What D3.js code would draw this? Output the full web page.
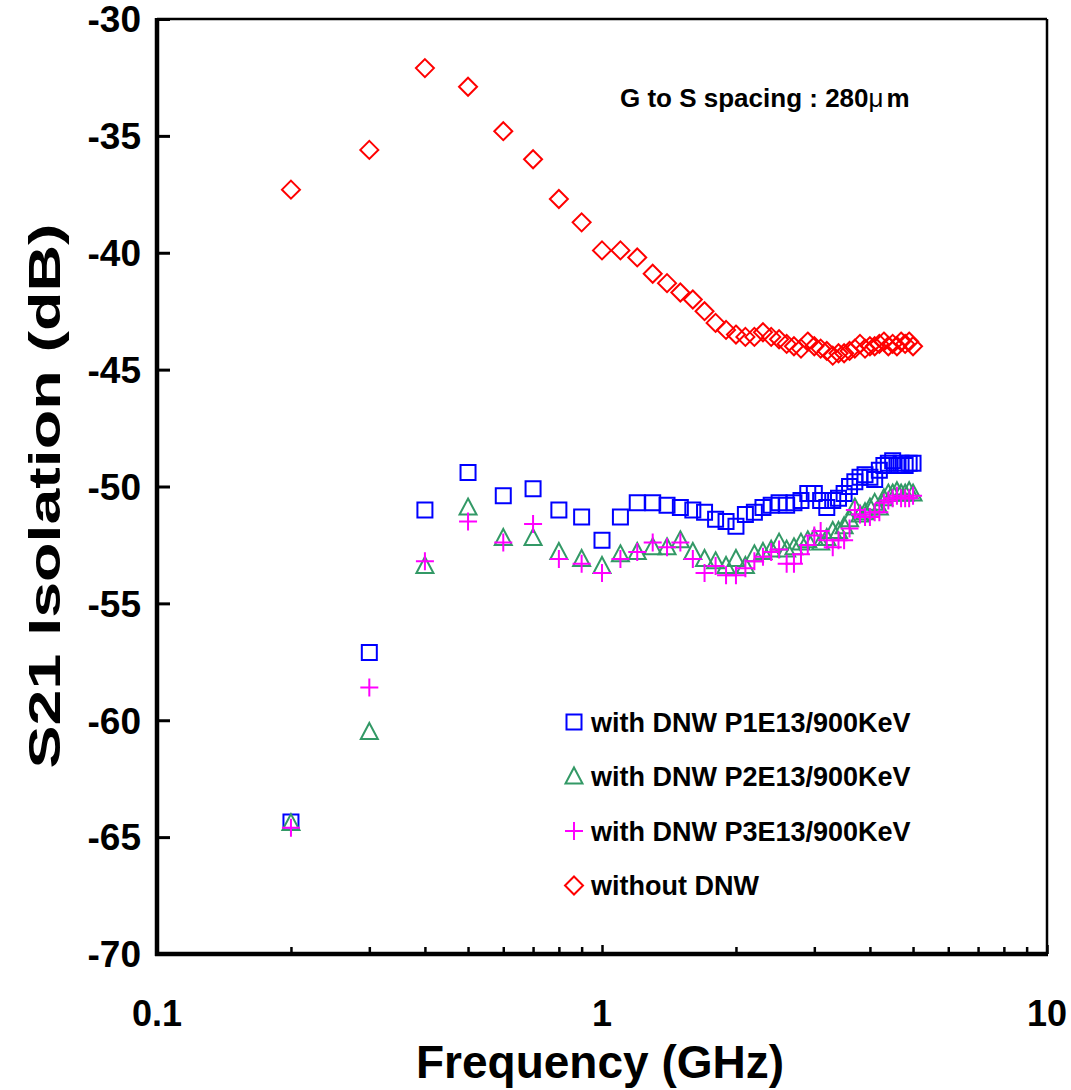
<!DOCTYPE html>
<html>
<head>
<meta charset="utf-8">
<script src="https://cdn.jsdelivr.net/npm/d3@7"></script>
<style>
  body { margin: 0; background: #fff; }
  svg { font-family: "Liberation Sans", Arial, sans-serif; font-weight: bold; }
</style>
</head>
<body>
<div id="chart"></div>
<script>
// Frequency points (GHz)
const freq = [0.2, 0.3, 0.4, 0.5, 0.6, 0.7, 0.8, 0.9, 1.0, 1.1, 1.2, 1.3, 1.4, 1.5, 1.6, 1.7, 1.8, 1.9,
    2.0, 2.1, 2.2, 2.3, 2.4, 2.5, 2.6, 2.7, 2.8, 2.9, 3.0, 3.1, 3.2, 3.3, 3.4, 3.5, 3.6, 3.7, 3.8, 3.9,
    4.0, 4.1, 4.2, 4.3, 4.4, 4.5, 4.6, 4.7, 4.8, 4.9, 5.0];

// S21 isolation (dB)
const p1 = [-64.35, -57.1, -51.0, -49.4, -50.4, -50.1, -51.0, -51.3, -52.3, -51.3, -50.7, -50.7, -50.8, -50.9, -51.0, -51.1, -51.4, -51.5,
    -51.7, -51.2, -51.1, -50.9, -50.8, -50.7, -50.8, -50.7, -50.6, -50.3, -50.3, -50.6, -50.9, -50.6, -50.5, -50.3, -50.0, -49.8, -49.6, -49.5,
    -49.6, -49.7, -49.3, -49.1, -49.0, -48.9, -49.1, -49.0, -49.1, -49.0, -49.0];
const p2 = [-64.4, -60.5, -53.4, -50.9, -52.2, -52.2, -52.8, -53.1, -53.4, -52.9, -52.8, -52.6, -52.6, -52.3, -52.8, -53.1, -53.2, -53.4,
    -53.1, -53.4, -52.9, -52.8, -52.7, -52.4, -52.7, -52.6, -52.4, -52.3, -52.2, -52.4, -52.2, -51.9, -51.9, -51.7, -51.4, -50.9, -51.2, -51.1,
    -50.9, -50.7, -50.9, -50.5, -50.3, -50.3, -50.2, -50.3, -50.3, -50.2, -50.3];
const p3 = [-64.6, -58.6, -53.2, -51.5, -52.4, -51.6, -53.1, -53.3, -53.7, -53.1, -52.8, -52.4, -52.6, -52.4, -53.1, -53.7, -53.4, -53.8,
    -53.8, -53.5, -53.2, -53.0, -52.8, -52.7, -53.3, -53.3, -52.9, -52.5, -52.1, -51.9, -52.3, -52.6, -52.3, -52.3, -51.8, -51.0, -51.2, -51.3,
    -51.3, -51.1, -51.1, -50.7, -50.6, -50.5, -50.4, -50.5, -50.5, -50.5, -50.4];
const noDnw = [-37.3, -35.6, -32.1, -32.9, -34.8, -36.0, -37.7, -38.7, -39.9, -39.9, -40.2, -40.9, -41.3, -41.7, -42.0, -42.5, -43.0, -43.3,
    -43.5, -43.6, -43.6, -43.4, -43.6, -43.7, -43.9, -44.0, -44.1, -43.8, -44.0, -44.1, -44.2, -44.4, -44.3, -44.3, -44.2, -44.1, -43.9, -44.1,
    -44.0, -44.0, -43.9, -43.8, -44.0, -43.9, -44.0, -43.8, -43.9, -43.8, -44.0];

const seriesNames = ["with DNW P1E13/900KeV", "with DNW P2E13/900KeV", "with DNW P3E13/900KeV", "without DNW"];
const yTicks = [-30, -35, -40, -45, -50, -55, -60, -65, -70];
const xTickLabels = [0.1, 1, 10];

const width = 1071, height = 1090;
const plotLeft = 157, plotRight = 1047, plotTop = 19, plotBottom = 954;

const svg = d3.select("#chart").append("svg")
    .attr("width", width)
    .attr("height", height);

const x = d3.scaleLog().domain([0.1, 10]).range([plotLeft, plotRight]);
const y = d3.scaleLinear().domain([-70, -30]).range([plotBottom, plotTop]);

// marker shapes
const markers = {
    square: "M-7.5,-7.5H7.5V7.5H-7.5Z",
    triangle: "M0,-9L8.5,7H-8.5Z",
    plus: "M-9,0H9M0,-9V9",
    diamond: "M0,-9L9,0L0,9L-9,0Z"
};
const series = [
    { name: seriesNames[0], values: p1, shape: "square", color: "#0000ff" },
    { name: seriesNames[1], values: p2, shape: "triangle", color: "#339966" },
    { name: seriesNames[2], values: p3, shape: "plus", color: "#ff00ff" },
    { name: seriesNames[3], values: noDnw, shape: "diamond", color: "#ff0000" }
];

// frame
svg.append("line").attr("x1", plotLeft).attr("x2", plotRight).attr("y1", plotTop).attr("y2", plotTop)
    .attr("stroke", "#000").attr("stroke-width", 2.5);
svg.append("line").attr("x1", plotRight).attr("x2", plotRight).attr("y1", plotTop).attr("y2", plotBottom)
    .attr("stroke", "#000").attr("stroke-width", 2.5);

// y axis, ticks pointing inward
const yAxis = d3.axisRight(y).tickValues(yTicks).tickSize(13).tickFormat("");
const gy = svg.append("g").attr("transform", `translate(${plotLeft},0)`).call(yAxis);
gy.select(".domain").remove();
gy.selectAll(".tick line").attr("stroke-width", 3);
svg.selectAll(".ylab")
    .data(yTicks)
    .enter()
    .append("text")
    .attr("x", 141)
    .attr("y", d => y(d))
    .attr("dy", "0.36em")
    .attr("text-anchor", "end")
    .style("font-size", "37px")
    .text(d => d);

// x axis, minor ticks inward
const xMinor = x.ticks();
const xAxis = d3.axisTop(x).tickValues(xMinor).tickSize(7).tickFormat("");
const gx = svg.append("g").attr("transform", `translate(0,${plotBottom})`).call(xAxis);
gx.select(".domain").remove();
gx.selectAll(".tick line")
    .attr("stroke-width", 2.5)
    .attr("y2", d => xTickLabels.includes(d) ? -9 : -7);
svg.selectAll(".xlab")
    .data(xTickLabels)
    .enter()
    .append("text")
    .attr("x", d => x(d))
    .attr("y", 1026)
    .attr("text-anchor", "middle")
    .style("font-size", "36px")
    .text(d => d);

// axis lines
svg.append("line").attr("x1", plotLeft).attr("x2", plotLeft).attr("y1", plotTop - 1).attr("y2", plotBottom + 2)
    .attr("stroke", "#000").attr("stroke-width", 4.5);
svg.append("line").attr("x1", plotLeft - 2).attr("x2", plotRight + 1).attr("y1", plotBottom).attr("y2", plotBottom)
    .attr("stroke", "#000").attr("stroke-width", 4.5);

// axis titles
svg.append("text")
    .attr("x", 600)
    .attr("y", 1078)
    .attr("text-anchor", "middle")
    .style("font-size", "46px")
    .text("Frequency (GHz)");
svg.append("text")
    .attr("transform", "translate(60,496) rotate(-90)")
    .attr("text-anchor", "middle")
    .attr("textLength", 545)
    .attr("lengthAdjust", "spacingAndGlyphs")
    .style("font-size", "45px")
    .text("S21 Isolation (dB)");

// data markers
series.forEach(s => {
    svg.append("g")
        .selectAll("path")
        .data(freq.map((f, i) => [f, s.values[i]]))
        .enter()
        .append("path")
        .attr("d", markers[s.shape])
        .attr("transform", d => `translate(${x(d[0])},${y(d[1])})`)
        .attr("fill", "none")
        .attr("stroke", s.color)
        .attr("stroke-width", 2);
});

// annotation
const note = svg.append("text")
    .attr("x", 620)
    .attr("y", 107)
    .style("font-size", "26px");
note.append("tspan").text("G to S spacing : 280");
note.append("tspan").style("font-weight", "normal").text("\u03bc");
note.append("tspan").attr("dx", 3).text("m");

// legend
const legend = svg.append("g").attr("transform", "translate(574,722)");
series.forEach((s, i) => {
    const row = legend.append("g").attr("transform", `translate(0,${i * 54.5})`);
    row.append("path")
        .attr("d", markers[s.shape])
        .attr("fill", "none")
        .attr("stroke", s.color)
        .attr("stroke-width", 2);
    row.append("text")
        .attr("x", 17)
        .attr("dy", "0.36em")
        .style("font-size", "27px")
        .text(s.name);
});
</script>
</body>
</html>
